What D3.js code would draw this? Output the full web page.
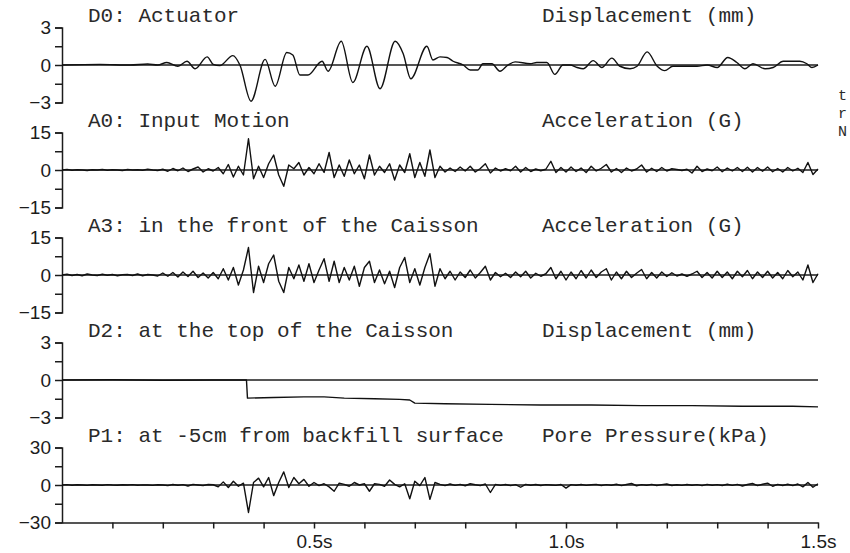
<!DOCTYPE html>
<html>
<head>
<meta charset="utf-8">
<script src="https://cdn.jsdelivr.net/npm/d3@7"></script>
<style>
  body { margin: 0; background: #fff; }
  .title { font-family: "Liberation Mono", "Courier New", monospace; font-size: 21px; fill: #2a2a2a; }
  .margin { font-family: "Liberation Mono", "Courier New", monospace; font-size: 15px; fill: #2a2a2a; }
  .tick text { font-family: "Liberation Sans", Arial, sans-serif; font-size: 19px; fill: #1c1c1c; }
  .axis path, .axis line { stroke: #1c1c1c; stroke-width: 1.5; }
  .trace { fill: none; stroke: #111; stroke-width: 1.4; stroke-linejoin: round; }
</style>
</head>
<body>
<svg></svg>
<script>
// ---- data ----

// D0 actuator displacement (mm), [time s, value]
const d0Actuator = [[0,0],[0.075,0.05],[0.135,0],[0.17,0.08],[0.19,0],[0.208,0.2],[0.23,-0.1],[0.248,0.3],
  [0.264,-0.3],[0.288,0.65],[0.3,0.05],[0.313,-0.05],[0.339,0.75],[0.353,0],[0.375,-2.9],[0.403,0.45],
  [0.423,-1.7],[0.446,1.0],[0.458,0.8],[0.472,-0.8],[0.488,-0.8],[0.516,0.3],[0.528,-0.5],[0.554,1.9],
  [0.577,-1.4],[0.605,1.5],[0.631,-1.9],[0.661,1.9],[0.677,0.9],[0.692,-1.1],[0.724,1.5],[0.736,0.4],
  [0.75,0.65],[0.764,0.6],[0.776,0.3],[0.796,0],[0.81,-0.4],[0.825,-0.4],[0.835,0.1],[0.853,0.1],
  [0.869,-0.5],[0.885,0],[0.899,0.25],[0.929,0.1],[0.942,0.2],[0.962,0.2],[0.978,-0.75],[0.994,0],
  [1.008,0],[1.022,-0.2],[1.034,-0.3],[1.054,0.35],[1.071,-0.2],[1.091,0.55],[1.107,-0.1],[1.127,-0.3],
  [1.141,-0.1],[1.161,1.05],[1.181,-0.1],[1.196,-0.45],[1.212,-0.1],[1.24,-0.1],[1.26,-0.1],[1.28,0],
  [1.3,-0.2],[1.321,0.6],[1.339,0.2],[1.355,-0.3],[1.371,0.1],[1.395,-0.3],[1.411,-0.2],[1.431,0.3],
  [1.464,0.3],[1.478,0.1],[1.488,-0.2],[1.5,0]]

// A0, A3 (G) and P1 (kPa) read every 0.01 s from 0 to 1.5 s
const dt = 0.01

const a0Input = [0,0.2,-0.1,0.1,0,-0.2,0.1,0,0.2,-0.1, 0.1,0,-0.2,0.2,0,0.1,-0.1,0.3,0,-0.2,
  0.3,-0.5,0.6,-0.3,0.8,-0.6,0.4,1.2,-0.8,0.5, -0.4,1.0,-1.5,2.2,-2.8,1.5,-2.0,12.5,-3.5,1.5,
  -3.0,2.5,6.0,-2.0,-6.5,2.0,0.5,3.0,-2.0,1.0, -1.5,2.5,-1.0,7.0,-3.0,2.0,-2.5,4.0,-1.5,2.0,
  -3.5,6.0,-2.0,1.5,-1.0,2.5,-4.0,2.0,-1.0,6.5, -3.0,3.0,-2.5,8.0,-3.0,
  1.5,-0.8,0.8,-0.6,1.2,-0.4,1.5,-0.8,0.6,2.5, -1.2,0.8,-0.4,0.5,-0.3,1.5,-0.8,1.0,-0.6,0.4,
  -0.3,0.3,3.5,-1.0,1.0,-0.8,1.2,-0.6,0.8,-1.0, 1.5,-0.4,0.7,2.2,-0.8,0.6,-1.0,0.8,-0.4,0.4,
  2.0,-0.8,0.7,-0.6,1.0,-0.4,0.5,0.2,-0.2,0.3, -1.2,1.5,-0.6,0.4,-0.3,1.2,-0.7,0.8,-0.4,1.0,
  -0.6,1.1,-0.8,1.0,-0.5,1.2,-0.7,0.6,-0.8,1.0, -0.4,0.7,-1.0,3.0,-1.8,0.4]

const a3Front = [0,0.3,-0.2,0.2,-0.3,0.4,0,-0.2,0.3,-0.1, 0.2,-0.3,0.1,0.2,-0.2,0.4,-0.3,0.2,0,-0.4,
  0.8,-0.5,1.0,-0.8,1.2,-0.6,1.5,-1.0,0.8,-1.2, 1.0,-1.5,2.5,-2.0,3.0,-4.0,2.0,11.0,-7.0,3.5,
  -3.0,4.5,8.0,-2.5,-7.0,3.0,-1.5,4.0,-2.5,4.5, -3.0,2.0,6.5,-2.5,5.5,-3.0,3.0,-2.0,3.5,-4.5,
  3.0,5.5,-3.0,2.0,-3.5,1.5,-5.0,3.0,7.0,-3.0, 2.5,-4.0,3.0,8.5,-4.5,
  2.5,-1.5,1.5,-2.0,1.2,-1.0,2.0,-1.2,1.0,3.5, -2.0,1.0,-0.7,0.7,-1.0,1.2,-0.7,1.5,-1.2,0.7,
  -0.5,0.5,3.0,-1.5,1.5,-2.0,1.2,-1.5,1.8,-1.2, 2.0,-1.0,1.2,2.5,-2.0,1.2,-1.5,1.5,-1.0,0.7,
  2.2,-1.5,1.0,-1.2,1.2,-0.6,0.9,-0.4,0.4,-0.5, 0.4,1.5,-1.0,1.0,-1.2,1.5,-1.0,1.2,-1.5,1.5,
  -0.7,1.8,-1.5,1.2,-1.0,1.5,-1.2,1.0,-1.5,1.8, -0.7,1.2,-2.0,4.0,-3.0,0.5]

const p1Pore = [0,0.3,-0.2,0.2,0,-0.3,0.2,0,-0.2,0.3, 0,-0.2,0.2,0,0.3,-0.2,0.1,0,-0.3,0.2,
  0,-0.5,0.4,-0.2,0.3,-0.8,0.5,0,-0.5,0.4, 0.2,-1.5,2.5,-2.0,3.0,-1.0,1.5,-22,2.0,5.5,
  -1.5,6.0,-8.5,2.0,10.5,-2.0,6.0,1.0,4.5,-1.0, 2.0,-0.5,1.0,-1.5,-5.0,1.5,0.5,-1.0,2.0,0,
  1.0,-5.0,1.0,0.5,-1.0,4.0,0.5,-1.5,1.0,-11.0, 3.0,-0.5,6.0,-11.5,2.0,0.5,-0.5,0.8,-0.3,0.5,
  -0.6,1.0,0.2,-0.5,0.8,-6.0,0.5,-0.3,0.4,-0.5, 0.3,-1.8,0.5,-0.2,0.4,-0.4,0.3,0,-0.3,0.4,
  -2.5,0.3,-0.2,0.4,-0.3,0.2,0.5,-0.4,0.3,-0.2, 0.6,-0.5,0.4,1.2,-0.6,0.3,-0.2,0.5,-0.4,0.3,
  0.8,-0.4,0.2,-0.3,0.4,-0.2,0.3,-0.5,0.5,-0.2, 0.3,-0.4,0.6,-0.3,0.5,-0.8,0.4,1.2,-0.5,0.6,
  1.5,-1.0,0.5,-0.4,0.6,-0.5,0.8,-1.5,2.0,-1.8, 1.0]

// D2 caisson top displacement (mm), [time s, value]
const d2Top = [[0,0],[0.1,0.02],[0.2,-0.02],[0.3,0],[0.366,0],[0.368,-1.45],[0.42,-1.4],[0.48,-1.35],
  [0.52,-1.35],[0.56,-1.45],[0.62,-1.5],[0.67,-1.55],[0.69,-1.6],[0.7,-1.85],[0.76,-1.9],[0.85,-1.95],
  [0.95,-2.0],[1.05,-2.0],[1.15,-2.05],[1.25,-2.05],[1.35,-2.1],[1.45,-2.1],[1.5,-2.15]]

const leftTitles = ["D0: Actuator", "A0: Input Motion", "A3: in the front of the Caisson",
  "D2: at the top of the Caisson", "P1: at -5cm from backfill surface"]
const unitTitles = ["Displacement (mm)", "Acceleration (G)", "Acceleration (G)",
  "Displacement (mm)", "Pore Pressure(kPa)"]
const limits = [3, 15, 15, 3, 30]

const timeTicks = [0.1,0.2,0.3,0.4,0.5,0.6,0.7,0.8,0.9,1.0,1.1,1.2,1.3,1.4,1.5]
const timeLabelAt = [0.5, 1.0, 1.5]
const timeLabels = ["0.5s", "1.0s", "1.5s"]

// cut-off letters of the neighbouring column
const marginLetters = ["t", "r", "N"]

// ---- drawing ----
let width = 850
let height = 553
let left = 62
let right = 818
let firstZero = 65
let panelStep = 105
let halfHeight = 37.5

let toPairs = (arr) => arr.map((v, i) => [i * dt, v])
let series = [d0Actuator, toPairs(a0Input), toPairs(a3Front), d2Top, toPairs(p1Pore)]
let curves = [d3.curveMonotoneX, d3.curveLinear, d3.curveLinear, d3.curveLinear, d3.curveLinear]

let svg = d3.select("svg").attr("width", width).attr("height", height)

let xScale = d3.scaleLinear().domain([0, 1.5]).range([left, right])

series.forEach((data, i) => {
    let lim = limits[i]
    let zero = firstZero + panelStep * i
    let yScale = d3.scaleLinear()
                   .domain([-lim, lim])
                   .range([zero + halfHeight, zero - halfHeight])

    let yAxis = d3.axisLeft(yScale)
                  .tickValues([-lim, -lim / 2, 0, lim / 2, lim])
                  .tickSize(7)
                  .tickSizeOuter(7)
                  .tickPadding(4)
                  .tickFormat(d => Math.abs(d) === lim / 2 ? "" : (d < 0 ? "\u2212" + (-d) : d))

    svg.append("g")
       .attr("class", "axis")
       .attr("transform", "translate(" + left + ",0)")
       .call(yAxis)

    // zero reference line
    svg.append("line")
       .attr("x1", left).attr("x2", right)
       .attr("y1", yScale(0)).attr("y2", yScale(0))
       .attr("stroke", "#1c1c1c").attr("stroke-width", 1.3)

    let line = d3.line()
                 .x(d => xScale(d[0]))
                 .y(d => yScale(d[1]))
                 .curve(curves[i])

    svg.append("path")
       .datum(data)
       .attr("class", "trace")
       .attr("d", line)

    svg.append("text")
       .attr("class", "title")
       .attr("x", 88)
       .attr("y", zero - halfHeight - 6)
       .text(leftTitles[i])

    svg.append("text")
       .attr("class", "title")
       .attr("x", 542)
       .attr("y", zero - halfHeight - 6)
       .text(unitTitles[i])
})

// time axis under the last panel
let xAxis = d3.axisBottom(xScale)
              .tickValues(timeTicks)
              .tickSize(6)
              .tickSizeOuter(0)
              .tickPadding(6)
              .tickFormat(d => {
                  let k = timeLabelAt.findIndex(v => Math.abs(v - d) < 1e-6)
                  return k < 0 ? "" : timeLabels[k]
              })

svg.append("g")
   .attr("class", "axis")
   .attr("transform", "translate(0," + (firstZero + panelStep * 4 + halfHeight) + ")")
   .call(xAxis)

// letters from the next column, clipped by the page edge
let margin = svg.append("text")
                .attr("class", "margin")
                .attr("x", 838)
                .attr("y", 100)

margin.selectAll("tspan")
      .data(marginLetters)
      .enter()
      .append("tspan")
      .attr("x", 838)
      .attr("dy", (d, i) => i === 0 ? 0 : 18)
      .text(d => d)
</script>
</body>
</html>
